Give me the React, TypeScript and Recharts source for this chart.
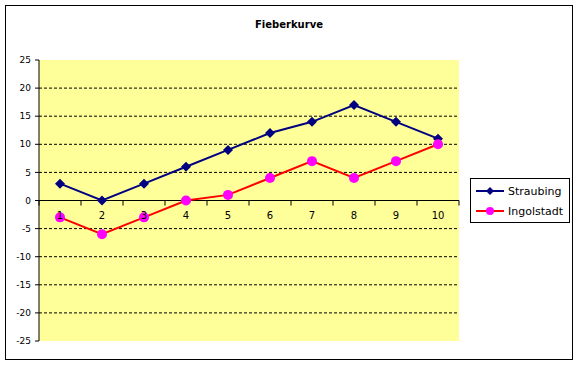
import React from 'react';
import { LineChart, Line, XAxis, YAxis, CartesianGrid, ReferenceLine, ReferenceDot } from 'recharts';

const days = [1, 2, 3, 4, 5, 6, 7, 8, 9, 10];
const straubing = [3, 0, 3, 6, 9, 12, 14, 17, 14, 11];
const ingolstadt = [-3, -6, -3, 0, 1, 4, 7, 4, 7, 10];
const yTicks = [-25, -20, -15, -10, -5, 0, 5, 10, 15, 20, 25];
const gridValues = [-20, -15, -10, -5, 5, 10, 15, 20];

const data = days.map((d, i) => ({ day: d, Straubing: straubing[i], Ingolstadt: ingolstadt[i] }));
// category boundaries, where Excel puts its tick marks
const boundaries = [days[0] - 0.5, ...days.map((d) => d + 0.5)];

const FONT = '"DejaVu Sans", Tahoma, sans-serif';

// recharts passes its own r to dots, so use "size" here
const Diamond = (props: any) => {
  const { cx, cy, fill, size = 5 } = props;
  if (cx == null || cy == null) return null;
  const r = size;
  return <polygon points={`${cx},${cy - r} ${cx + r},${cy} ${cx},${cy + r} ${cx - r},${cy}`} fill={fill} />;
};

const Round = (props: any) => {
  const { cx, cy, fill, size = 5 } = props;
  if (cx == null || cy == null) return null;
  return <circle cx={cx} cy={cy} r={size} fill={fill} />;
};

const series = [
  { name: 'Straubing', line: '#000080', marker: '#000080', Shape: Diamond },
  { name: 'Ingolstadt', line: '#FF0000', marker: '#FF00FF', Shape: Round },
];

const App: React.FC = () => {
  return (
    <div style={{ position: 'absolute', left: 0, top: 0, width: 578, height: 366, background: '#fff' }}>
      <div
        style={{
          position: 'absolute', left: 5, top: 5, width: 566, height: 353,
          border: '1px solid #000', pointerEvents: 'none',
        }}
      />
      <div
        style={{
          position: 'absolute', left: 0, top: 19, width: 578, textAlign: 'center',
          fontFamily: FONT, fontSize: 10, fontWeight: 'bold', color: '#000',
        }}
      >
        Fieberkurve
      </div>
      <div style={{ position: 'absolute', left: 0, top: 0 }}>
        <LineChart width={578} height={366} data={data} margin={{ top: 60, right: 119, bottom: 25, left: 0 }}>
          <CartesianGrid
            vertical={false}
            horizontalValues={gridValues}
            stroke="#000"
            strokeDasharray="3 2"
            fill="#FFFF99"
            fillOpacity={1}
          />
          <XAxis type="number" dataKey="day" domain={[0.5, 10.5]} hide />
          <YAxis
            width={39}
            domain={[-25, 25]}
            ticks={yTicks}
            interval={0}
            axisLine={{ stroke: '#000' }}
            tickLine={{ stroke: '#000' }}
            tickSize={4}
            tickMargin={4}
            tick={{ fill: '#000', fontSize: 9, fontFamily: FONT }}
          />
          <ReferenceLine y={0} stroke="#000" />
          {boundaries.map((b) => (
            <ReferenceLine key={`t${b}`} segment={[{ x: b, y: 0 }, { x: b, y: -0.9 }]} stroke="#000" />
          ))}
          {series.map((s) => (
            <Line
              key={s.name}
              type="linear"
              dataKey={s.name}
              stroke={s.line}
              strokeWidth={2}
              dot={<s.Shape fill={s.marker} size={5} />}
              activeDot={false}
              isAnimationActive={false}
            />
          ))}
          {days.map((d) => (
            <ReferenceDot
              key={`l${d}`}
              x={d}
              y={0}
              r={0}
              fill="none"
              stroke="none"
              label={{ value: d, position: 'bottom', offset: 11, fill: '#000', fontSize: 10, fontFamily: FONT }}
            />
          ))}
        </LineChart>
      </div>
      <div
        style={{
          position: 'absolute', left: 470, top: 178, width: 98, height: 43,
          border: '1px solid #000', background: '#fff', fontFamily: FONT, fontSize: 11,
        }}
      >
        {series.map((s, i) => (
          <div key={s.name} style={{ position: 'absolute', left: 4, top: 4 + i * 20, height: 16, display: 'flex', alignItems: 'center' }}>
            <svg width={30} height={16}>
              <line x1={1} y1={8} x2={29} y2={8} stroke={s.line} strokeWidth={2} />
              <s.Shape cx={15} cy={8} size={4} fill={s.marker} />
            </svg>
            <span style={{ marginLeft: 3, color: '#000' }}>{s.name}</span>
          </div>
        ))}
      </div>
    </div>
  );
};

export default App;
